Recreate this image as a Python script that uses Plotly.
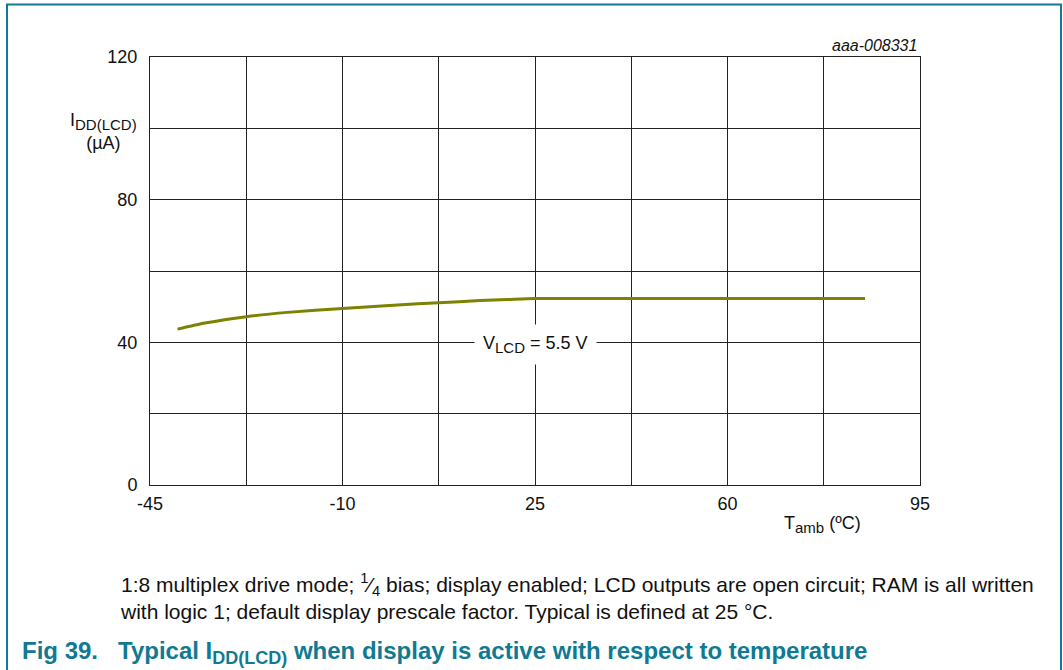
import plotly.graph_objects as go

# Data
temp_c = [-40, -35, -27.5, -20, -10, 0, 7.5, 15, 20, 25, 40, 60, 85]
idd_lcd_ua = [43.7, 45.4, 47.2, 48.4, 49.5, 50.5, 51.1, 51.7, 52.0, 52.3, 52.3, 52.3, 52.3]
x_ticks = [-45, -10, 25, 60, 95]
y_ticks = [0, 40, 80, 120]

FONT = "Liberation Sans, Arial, sans-serif"
TEAL = "#0f7a91"
OLIVE = "#7d8200"
GRID = "#222222"

L, R, T, B = 150, 143, 57, 185
PW, PH = 1063 - L - R, 670 - T - B


def px(x):
    return (x - L) / PW


def py(y):
    return (670 - B - y) / PH


fig = go.Figure()
fig.add_trace(go.Scatter(x=temp_c, y=idd_lcd_ua, mode="lines",
                         line=dict(color=OLIVE, width=3, shape="spline", smoothing=0.6),
                         showlegend=False, hoverinfo="skip"))

fig.update_layout(
    width=1063, height=670,
    margin=dict(l=L, r=R, t=T, b=B),
    paper_bgcolor="white", plot_bgcolor="white",
    font=dict(family=FONT, size=18, color="#111111"),
    showlegend=False,
)
fig.update_xaxes(range=[-45, 95], tickvals=x_ticks, ticktext=[str(v) for v in x_ticks],
                 showgrid=True, gridcolor=GRID, gridwidth=1,
                 minor=dict(tick0=-45, dtick=17.5, showgrid=True, gridcolor=GRID, gridwidth=1),
                 showline=True, linecolor=GRID, linewidth=1, mirror=True,
                 ticks="", zeroline=False, tickfont=dict(size=18), ticklabelstandoff=2)
fig.update_yaxes(range=[0, 120], tickvals=y_ticks, ticktext=[str(v) for v in y_ticks],
                 showgrid=True, gridcolor=GRID, gridwidth=1,
                 minor=dict(tick0=0, dtick=20, showgrid=True, gridcolor=GRID, gridwidth=1),
                 showline=True, linecolor=GRID, linewidth=1, mirror=True,
                 ticks="", zeroline=False, tickfont=dict(size=18), ticklabelstandoff=8)

SUB = '<sub><span style="font-size:15px">{}</span></sub>'

# Curve label with white background
fig.add_annotation(x=25, y=39.5, xref="x", yref="y",
                   text="V" + SUB.format("LCD") + " = 5.5 V", showarrow=False,
                   font=dict(size=18), bgcolor="white", borderpad=8)

# Axis titles
fig.add_annotation(xref="paper", yref="paper", x=px(103), y=py(131),
                   text="I" + SUB.format("DD(LCD)") + "<br>(µA)", showarrow=False,
                   font=dict(size=18), align="center", xanchor="center", yanchor="middle")
fig.add_annotation(xref="paper", yref="paper", x=px(822), y=py(524),
                   text="T" + SUB.format("amb") + " (ºC)", showarrow=False,
                   font=dict(size=18), xanchor="center", yanchor="middle")
fig.add_annotation(xref="paper", yref="paper", x=px(919), y=py(45),
                   text="<i>aaa-008331</i>", showarrow=False,
                   font=dict(size=16), xanchor="right", yanchor="middle")

# Notes and figure title
fig.add_annotation(xref="paper", yref="paper", x=px(118), y=py(568),
                   text="1:8 multiplex drive mode; <sup>1</sup>⁄<sub>4</sub> bias; display enabled; LCD outputs are open circuit; RAM is all written<br>with logic 1; default display prescale factor. Typical is defined at 25 °C.",
                   showarrow=False, font=dict(size=21), align="left",
                   xanchor="left", yanchor="top")
fig.add_annotation(xref="paper", yref="paper", x=px(20), y=py(652),
                   text="<b>Fig 39.   Typical I" + '<sub><span style="font-size:18px">DD(LCD)</span></sub>'
                        + " when display is active with respect to temperature</b>",
                   showarrow=False, font=dict(size=24, color=TEAL), align="left",
                   xanchor="left", yanchor="middle")

# Frame
fig.add_shape(type="rect", xref="paper", yref="paper",
              x0=px(7), x1=px(1061), y0=py(690), y1=py(4.5),
              line=dict(color=TEAL, width=2), layer="below")

fig.write_html("out.html", config={"displayModeBar": False},
               post_script="document.body.style.margin='0';")
